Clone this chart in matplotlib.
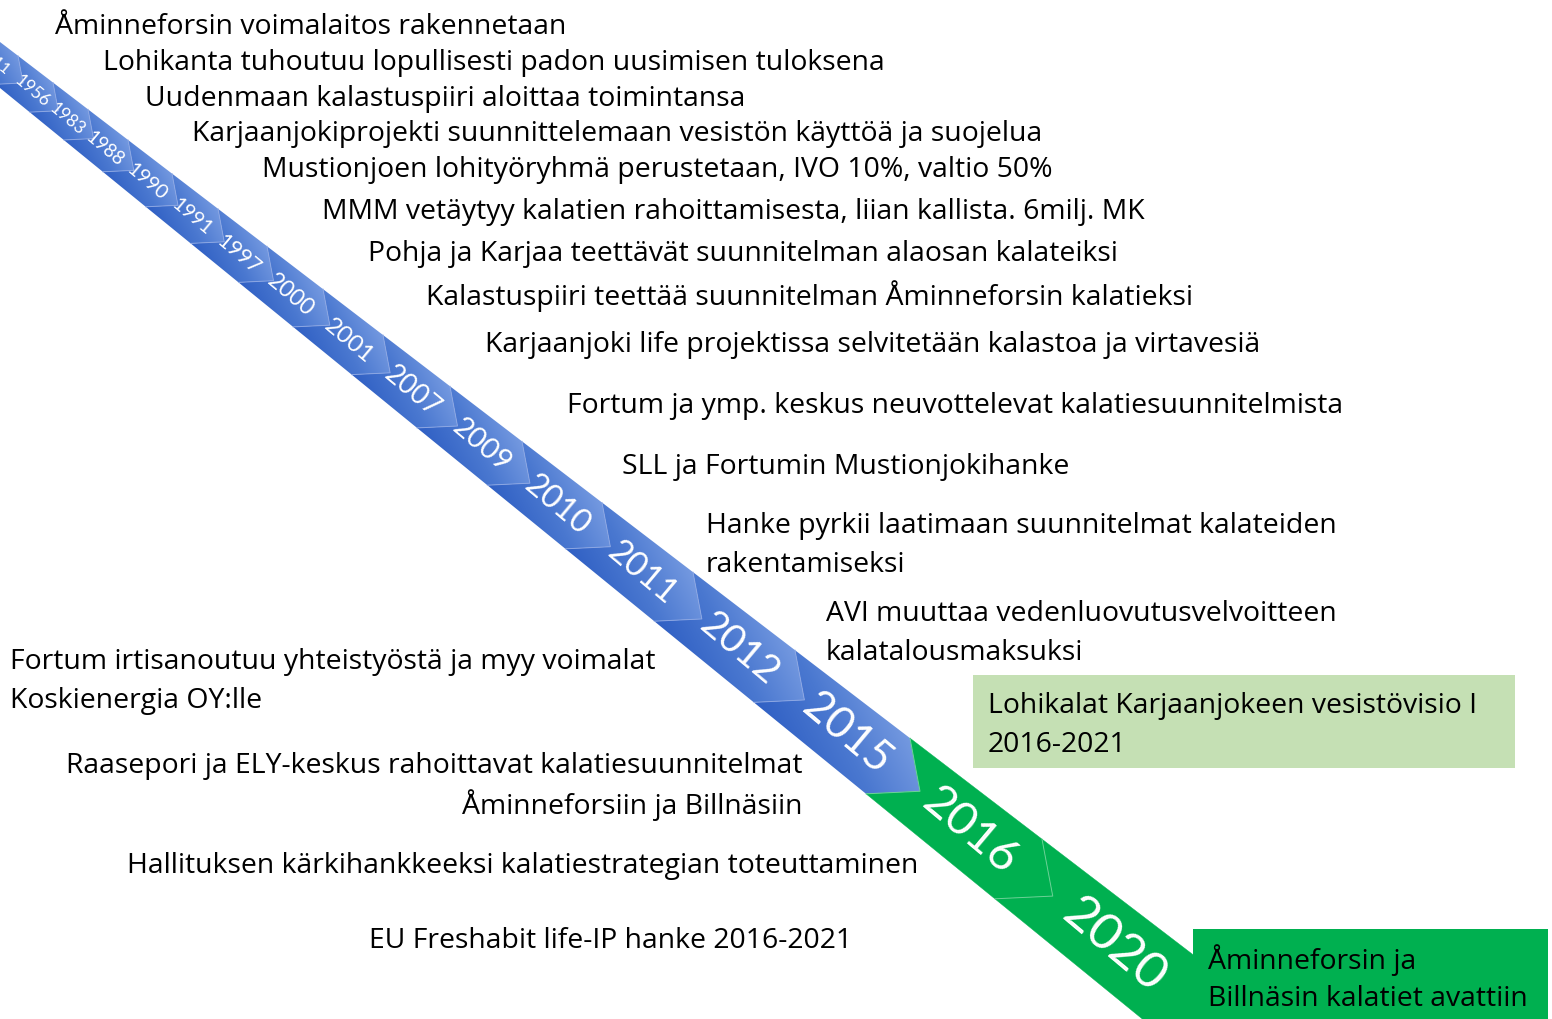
import numpy as np
import matplotlib
matplotlib.use("Agg")
import matplotlib.pyplot as plt
from matplotlib.patches import Polygon, Rectangle
from matplotlib.colors import LinearSegmentedColormap

# ---------------- data ----------------
years = ["1911", "1956", "1983", "1988", "1990", "1991", "1997", "2000", "2001",
         "2007", "2009", "2010", "2011", "2012", "2015", "2016", "2020"]
n_blue = 15  # years up to 2015 drawn in blue, later ones in green

events_right = [
    "Åminneforsin voimalaitos rakennetaan",
    "Lohikanta tuhoutuu lopullisesti padon uusimisen tuloksena",
    "Uudenmaan kalastuspiiri aloittaa toimintansa",
    "Karjaanjokiprojekti suunnittelemaan vesistön käyttöä ja suojelua",
    "Mustionjoen lohityöryhmä perustetaan, IVO 10%, valtio 50%",
    "MMM vetäytyy kalatien rahoittamisesta, liian kallista. 6milj. MK",
    "Pohja ja Karjaa teettävät suunnitelman alaosan kalateiksi",
    "Kalastuspiiri teettää suunnitelman Åminneforsin kalatieksi",
    "Karjaanjoki life projektissa selvitetään kalastoa ja virtavesiä",
    "Fortum ja ymp. keskus neuvottelevat kalatiesuunnitelmista",
    "SLL ja Fortumin Mustionjokihanke",
    "Hanke pyrkii laatimaan suunnitelmat kalateiden\nrakentamiseksi",
    "AVI muuttaa vedenluovutusvelvoitteen\nkalatalousmaksuksi",
]
events_left = [
    "Fortum irtisanoutuu yhteistyöstä ja myy voimalat\nKoskienergia OY:lle",
    "Raasepori ja ELY-keskus rahoittavat kalatiesuunnitelmat\nÅminneforsiin ja Billnäsiin",
    "Hallituksen kärkihankkeeksi kalatiestrategian toteuttaminen",
    "EU Freshabit life-IP hanke 2016-2021",
]
box_texts = [
    "Lohikalat Karjaanjokeen vesistövisio I\n2016-2021",
    "Åminneforsin ja\nBillnäsin kalatiet avattiin",
]

# ---------------- layout ----------------
W, H = 1552, 1020
TXT_FONT = ["Open Sans", "DejaVu Sans"]
YEAR_FONT = ["Lato", "DejaVu Sans"]
plt.rcParams['font.family'] = TXT_FONT

# band edges (pixel space): upper and lower straight edges
T_SLOPE, T_ICPT = 0.765, 43.0
B_SLOPE, B_ICPT = 0.815, 89.0
ANG = np.arctan(0.79)
D = np.array([np.cos(ANG), np.sin(ANG)])
N = np.array([-np.sin(ANG), np.cos(ANG)])
K = 1.15  # chevron tip advance relative to half width
seg_edges = [-25, 18, 53, 88, 128, 172, 218, 267, 323, 383, 450, 522, 602,
             693, 795, 910, 1042, 1200]
year_sizes = [11.5, 12.5, 12.5, 13.6, 14.6, 14.6, 15.6, 16.6, 17.6, 19.8, 21, 23.4,
              24.6, 28.2, 31.5, 34, 37]

right_pos = [(55, 27), (103, 63), (145, 99), (192, 134), (262, 170), (322, 212),
             (368, 254), (426, 296), (485, 345), (567, 406), (622, 467),
             (706, 526), (826, 614)]
left_pos = [("left", 10, 662), ("right", 803, 766), ("left", 127, 866),
            ("left", 369, 941)]
box_pos = [(988, 706), (1208, 960)]
TXT_SIZE = 20.4
LINE_H = 39.5


def top(u):
    return np.array([u, T_ICPT + T_SLOPE * u])


def width(u):
    t = top(u)
    return (B_ICPT + B_SLOPE * t[0] - t[1]) / (N[1] - B_SLOPE * N[0])


def bot(u):
    return top(u) + width(u) * N


def tip(u):
    return (top(u) + bot(u)) / 2 + K * width(u) / 2 * D


def put_lines(ax, x, y, txt, ha="left"):
    for k, line in enumerate(txt.split("\n")):
        ax.text(x, y + k * LINE_H, line, fontsize=TXT_SIZE, ha=ha, va="center",
                color="black", zorder=5)


fig = plt.figure(figsize=(W / 100, H / 100), dpi=100)
ax = fig.add_axes([0, 0, 1, 1])
ax.set_xlim(0, W)
ax.set_ylim(H, 0)
ax.axis("off")

blue_cmap = LinearSegmentedColormap.from_list("b", ["#3060c4", "#4a78d0", "#7499e0"])
G = -N + 0.45 * D
G = G / np.linalg.norm(G)

for i, yr in enumerate(years):
    ua, ub = seg_edges[i], seg_edges[i + 1]
    pts = np.array([top(ua), top(ub), tip(ub), bot(ub), bot(ua), tip(ua)])
    if i < n_blue:
        poly = Polygon(pts, closed=True, facecolor="none", edgecolor="none")
        ax.add_patch(poly)
        x0, y0 = pts.min(axis=0)
        x1, y1 = pts.max(axis=0)
        xs = np.linspace(x0, x1, 120)
        ys = np.linspace(y0, y1, 120)
        XX, YY = np.meshgrid(xs, ys)
        proj = XX * G[0] + YY * G[1]
        pp = pts @ G
        val = (proj - pp.min()) / (pp.max() - pp.min())
        im = ax.imshow(val, cmap=blue_cmap, extent=(x0, x1, y1, y0), origin="upper",
                       interpolation="bilinear", zorder=1, aspect="auto", vmin=0, vmax=1)
        im.set_clip_path(poly)
        line_col = "#8ea8e4"
    else:
        poly = Polygon(pts, closed=True, facecolor="#00b050", edgecolor="#00b050",
                       lw=0.3, zorder=1)
        ax.add_patch(poly)
        line_col = "#74d49c"
    if i > 0:
        ch = np.array([top(ua), tip(ua), bot(ua)])
        ax.plot(ch[:, 0], ch[:, 1], color=line_col, lw=0.7, alpha=0.9, zorder=2)
    um = (ua + ub) / 2
    c = (top(um) + bot(um)) / 2 + 0.5 * K * width(um) / 2 * D
    ax.text(c[0], c[1], yr, color="white", fontsize=year_sizes[i], rotation=-40,
            rotation_mode="anchor", ha="center", va="center", zorder=3,
            family=YEAR_FONT)

for txt, (x, y) in zip(events_right, right_pos):
    put_lines(ax, x, y, txt, "left")

for txt, (al, x, y) in zip(events_left, left_pos):
    put_lines(ax, x, y, txt, al)

ax.add_patch(Rectangle((973, 676), 542, 93, facecolor="#c5e0b4", edgecolor="none", zorder=4))
ax.add_patch(Rectangle((1193, 930), 355, 95, facecolor="#00b050", edgecolor="none", zorder=4))
for txt, (x, y) in zip(box_texts, box_pos):
    put_lines(ax, x, y, txt, "left")

fig.savefig("out.png", dpi=100)
